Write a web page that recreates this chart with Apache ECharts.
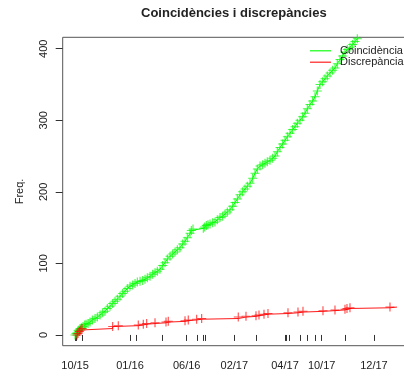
<!DOCTYPE html>
<html>
<head>
<meta charset="utf-8">
<script src="https://cdn.jsdelivr.net/npm/echarts@6/dist/echarts.min.js"></script>
<style>
  html, body { margin: 0; padding: 0; background: #fff; }
  #chart { width: 404px; height: 379px; }
</style>
</head>
<body>
<div id="chart"></div>
<script>
// Position of each record along the horizontal axis (record order scale)
// and the running count of coincidences at that record.
const coincX = [18.5, 20, 21.5, 23, 24.5, 26, 28, 30.5, 33, 35, 38, 41, 44.5, 48.5, 52, 56, 60, 63.5, 67, 71,
  75, 78.5, 82, 86, 90, 93.5, 97, 101, 105, 108.5, 112, 116, 120, 123.5, 127, 131, 135, 138.5, 142, 146,
  150, 153.5, 157, 161, 165, 168.5, 172, 176, 180, 183.5, 187, 191, 193, 195.5, 211, 213, 215.5, 218, 221, 225,
  228.5, 232, 236, 240, 243.5, 247, 251, 255, 258.5, 262, 266, 270, 273.5, 277, 281, 285, 288.5, 292, 296, 300,
  303.5, 307, 311, 315, 318.5, 322, 326, 330, 333.5, 337, 341, 345, 348.5, 352, 356, 360, 363.5, 367, 371, 375,
  378.5, 382, 386, 390, 393.5, 397, 401, 405, 408.5, 412, 416, 420, 423.5, 427, 431, 435, 438.5, 442, 446, 450,
  453.5, 458, 461, 470, 480];
const coincY = [0, 2, 3, 6, 7, 9, 10, 12, 14, 15, 16, 18, 21, 23, 25, 28, 31, 33, 37, 40,
  44, 47, 50, 54, 58, 61, 65, 68, 70, 72, 74, 75, 76, 78, 80, 82, 85, 87, 89, 92,
  97, 101, 106, 110, 113, 116, 119, 122, 127, 131, 136, 142, 146, 148, 149, 151, 153, 154, 155, 157,
  158, 161, 164, 166, 169, 172, 175, 180, 185, 190, 196, 200, 204, 208, 212, 219, 226, 232, 236, 238,
  240, 242, 244, 247, 250, 256, 262, 267, 272, 277, 282, 287, 291, 296, 300, 305, 310, 316, 322, 327,
  333, 341, 350, 354, 358, 362, 366, 370, 373, 379, 385, 390, 395, 399, 402, 406, 410, 414, 417, 421,
  425, 429, 432, 441, 452];

// Running count of discrepancies.
const discX = [21.5, 23, 25, 27, 29, 75, 83.4, 113.4, 120.9, 126, 138.5, 155, 158.4, 183.5, 188.4, 201, 208.5,
  263.4, 275, 290, 294.5, 302, 308, 338, 353, 360.5, 390.5, 408.5, 423.5, 426.5, 431, 491];
const discY = [0, 2, 5, 7, 9, 12, 13, 14, 15, 16, 17, 18, 19, 20, 21, 22, 23,
  25, 26, 27, 28, 29, 30, 31, 32, 33, 34, 35, 36, 37, 38, 39];
const discEndX = 501.5;

// Month marks on the horizontal axis.
const tickPos = [18.5, 21, 29, 101, 110, 150, 186, 202.5, 211, 213.5, 257.5, 290, 333.5, 336, 339.5, 356, 367.5,
  379.5, 388.5, 424.5, 467];
const tickMonth = ['10/15', '11/15', '12/15', '01/16', '02/16', '03/16', '06/16', '07/16', '09/16', '11/16', '02/17',
  '03/17', '04/17', '05/17', '06/17', '07/17', '08/17', '09/17', '10/17', '11/17', '12/17'];
const shownMonths = ['10/15', '01/16', '06/16', '02/17', '04/17', '10/17', '12/17'];

const yTicks = [0, 100, 200, 300, 400];

const seriesNames = ['Coincidència', 'Discrepància'];

const FONT = 'Liberation Sans, Arial, Helvetica, sans-serif';
const PLUS = 'path://M-0.5,-4.5 L0.5,-4.5 L0.5,4.5 L-0.5,4.5 Z M-4,-0.5 L4,-0.5 L4,0.5 L-4,0.5 Z';

const pair = (xs, ys) => xs.map((x, i) => [x, ys[i]]);
const discData = pair(discX, discY);
discData.push({ value: [discEndX, discY[discY.length - 1]], symbol: 'none' });

const shownPos = tickPos.filter((p, i) => shownMonths.includes(tickMonth[i]));

const chart = echarts.init(document.getElementById('chart'), null, { renderer: 'canvas' });
chart.setOption({
  animation: false,
  backgroundColor: '#ffffff',
  textStyle: { fontFamily: FONT },
  title: {
    text: 'Coincidències i discrepàncies',
    left: 141,
    top: 7,
    padding: 0,
    textStyle: { fontFamily: FONT, fontSize: 13, fontWeight: 'bold', color: '#222' }
  },
  legend: {
    orient: 'vertical',
    left: 310,
    top: 45,
    padding: 0,
    itemWidth: 21,
    itemHeight: 1.5,
    itemGap: 0,
    icon: 'rect',
    textStyle: { fontFamily: FONT, fontSize: 11, color: '#222', lineHeight: 11.5, padding: [0, 0, 0, 4] },
    data: seriesNames
  },
  grid: {
    left: 62.7,
    top: 37.3,
    right: -5.3,
    bottom: 33.3,
    show: true,
    borderColor: '#555',
    borderWidth: 1,
    backgroundColor: 'transparent',
    containLabel: false,
    outerBoundsMode: 'none'
  },
  xAxis: {
    type: 'value',
    min: 0,
    max: 520,
    splitLine: { show: false },
    axisLine: { show: false },
    axisTick: { show: true, length: 6, lineStyle: { color: '#333' }, customValues: tickPos },
    axisLabel: {
      customValues: shownPos,
      margin: 15,
      fontSize: 11,
      color: '#222',
      fontFamily: FONT,
      formatter: v => tickMonth[tickPos.indexOf(v)]
    }
  },
  yAxis: {
    type: 'value',
    min: -15,
    max: 416,
    name: 'Freq.',
    nameLocation: 'middle',
    nameRotate: 90,
    nameGap: 37,
    nameTextStyle: { fontFamily: FONT, fontSize: 11, color: '#222' },
    splitLine: { show: false },
    axisLine: { show: false },
    axisTick: { show: true, length: 7, lineStyle: { color: '#333' }, customValues: yTicks },
    axisLabel: {
      customValues: yTicks,
      rotate: 90,
      margin: 13,
      fontSize: 11,
      color: '#222',
      fontFamily: FONT
    }
  },
  series: [
    {
      name: seriesNames[0],
      type: 'line',
      data: pair(coincX, coincY),
      symbol: PLUS,
      symbolSize: 9,
      showAllSymbol: true,
      color: '#00ff00',
      lineStyle: { width: 1, color: '#00ff00' },
      itemStyle: { color: '#00ff00', opacity: 0.75 },
      clip: true
    },
    {
      name: seriesNames[1],
      type: 'line',
      step: 'end',
      data: discData,
      symbol: PLUS,
      symbolSize: 9,
      showAllSymbol: true,
      color: '#ff0000',
      lineStyle: { width: 1, color: '#ff1a1a' },
      itemStyle: { color: '#ff0000', opacity: 0.7 },
      clip: true
    }
  ]
});
</script>
</body>
</html>
